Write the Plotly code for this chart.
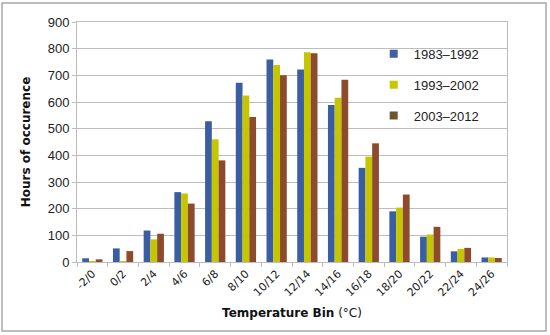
import plotly.graph_objects as go

bins = ["-2/0", "0/2", "2/4", "4/6", "6/8", "8/10", "10/12", "12/14", "14/16",
        "16/18", "18/20", "20/22", "22/24", "24/26"]
s1983 = [14, 51, 118, 262, 528, 672, 759, 722, 589, 353, 190, 95, 40, 17]
s1993 = [2, 3, 85, 257, 460, 624, 739, 787, 616, 395, 204, 103, 49, 17]
s2003 = [10, 41, 106, 219, 381, 544, 700, 783, 683, 445, 253, 132, 53, 15]
names = ["1983\u20131992", "1993\u20132002", "2003\u20132012"]
colors = ["#3B5EA3", "#C6C600", "#8E4A2C"]
legend_colors = ["#3F5F9F", "#C8C800", "#6E5430"]

fig = go.Figure()
for nm, vals, c in zip(names, [s1983, s1993, s2003], colors):
    fig.add_trace(go.Bar(x=bins, y=vals, name=nm, showlegend=False,
                         marker=dict(color=c, line=dict(width=0))))
for nm, c in zip(names, legend_colors):
    fig.add_trace(go.Scatter(x=[None], y=[None], name=nm, mode="markers", legendgroup=nm,
                             marker=dict(symbol="square", size=8, color=c)))

grid = "#BDBDBD"
fig.update_layout(
    width=550, height=335,
    margin=dict(l=77, r=43, t=22, b=73),
    paper_bgcolor="white", plot_bgcolor="white",
    barmode="group", bargap=0.34, bargroupgap=0,
    font=dict(family="Liberation Sans", size=13, color="#222"),
    legend=dict(x=0.69, y=0.93, xanchor="left", yanchor="top",
                bgcolor="rgba(0,0,0,0)", tracegroupgap=11, itemsizing="trace",
                font=dict(family="Liberation Sans", size=13, color="#222"),
                itemwidth=30),
    showlegend=True,
    xaxis=dict(title=dict(text="<b>Temperature Bin</b> (\u00b0C)", standoff=10,
                          font=dict(family="DejaVu Sans", size=12, color="#111")),
               automargin=False,
               tickangle=-45, tickfont=dict(family="DejaVu Sans", size=11, color="#222"),
               showline=True, linecolor=grid, mirror=True,
               ticks="outside", ticklen=4, tickcolor=grid, tickson="boundaries",
               showgrid=False),
    yaxis=dict(title=dict(text="<b>Hours of occurence</b>", standoff=14,
                          font=dict(family="DejaVu Sans", size=12, color="#111")),
               automargin=False,
               range=[0, 900], dtick=100, tickfont=dict(family="Liberation Sans", size=13, color="#222"),
               showgrid=True, gridcolor=grid, gridwidth=1,
               showline=True, linecolor=grid, mirror=True,
               ticks="outside", ticklen=4, tickcolor=grid, zeroline=False),
    shapes=[dict(type="rect", xref="paper", yref="paper",
                 x0=(2 - 77) / 430, x1=(546 - 77) / 430,
                 y0=(262 - 331) / 240, y1=(262 - 3) / 240,
                 line=dict(color="#A8A8A8", width=1.5), fillcolor="rgba(0,0,0,0)", layer="below")],
)
fig.write_html("out.html", config={"displayModeBar": False},
               post_script="document.body.style.margin='0';")
